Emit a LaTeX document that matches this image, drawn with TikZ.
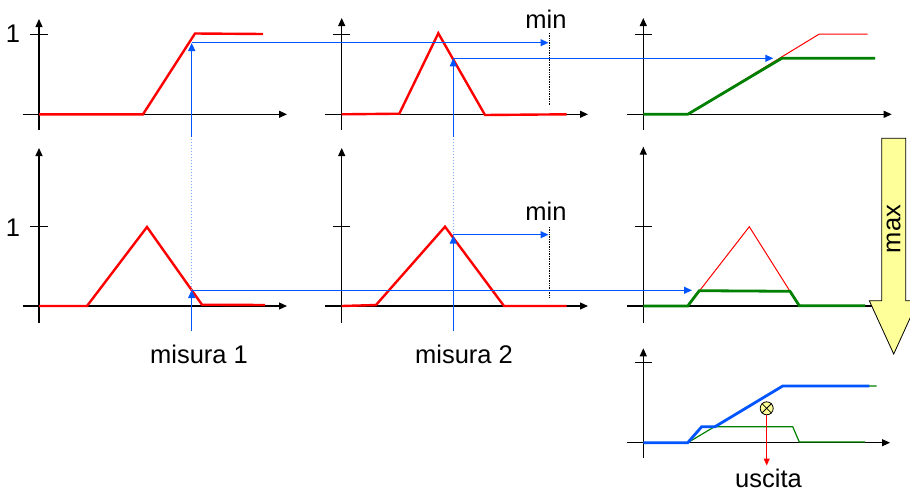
\documentclass[tikz,border=0pt]{standalone}
\usepackage{fontspec}
\setmainfont{Liberation Sans}
\usetikzlibrary{arrows.meta}
\definecolor{fred}{RGB}{255,0,0}
\definecolor{fblue}{RGB}{0,85,255}
\definecolor{fgreen}{RGB}{0,150,0}
\definecolor{fyellow}{RGB}{255,255,153}
\begin{document}
\begin{tikzpicture}[x=1pt,y=-1pt,
  axisline/.style={line width=1.1pt, black, -{Triangle[length=8pt,width=7pt]}},
  tickline/.style={line width=1.1pt, black},
  redthick/.style={line width=2.4pt, fred, line join=miter},
  redthin/.style={line width=1pt, fred},
  greenthick/.style={line width=2.8pt, fgreen!85!black},
  greenthin/.style={line width=1.2pt, fgreen!85!black},
  bluethick/.style={line width=2.8pt, fblue},
  blueline/.style={line width=1.2pt, fblue},
  bluearrow/.style={line width=1.2pt, fblue, -{Triangle[length=8pt,width=7pt]}},
  bluedot/.style={line width=1pt, fblue!50, dotted},
  mindot/.style={line width=0.7pt, black, densely dotted},
  lbl/.style={inner sep=0pt, font=\fontsize{25.5}{30}\selectfont},
  maxarrow/.style={draw=black, line width=0.8pt, fill=fyellow}]
\useasboundingbox (0,0) rectangle (910,493);

% ---------- axes ----------
% panel 1 (top left)
\draw[axisline] (22.7,114.3) -- (287,114.3);
\draw[axisline] (39,130) -- (39,19);
\draw[tickline] (30,34.3) -- (48,34.3);
% panel 2 (bottom left)
\draw[axisline] (22.7,306) -- (287,306);
\draw[axisline] (39,322.7) -- (39,148);
\draw[tickline] (30,226.7) -- (48,226.7);
% panel 3 (top middle)
\draw[axisline] (325,114.3) -- (588,114.3);
\draw[axisline] (341.7,130) -- (341.7,18);
\draw[tickline] (333,34.3) -- (350,34.3);
% panel 4 (bottom middle)
\draw[axisline] (325,306) -- (588,306);
\draw[axisline] (341.7,322.7) -- (341.7,148);
\draw[tickline] (333,226.7) -- (350,226.7);
% panel 5 (top right)
\draw[axisline] (627.3,114.3) -- (891.7,114.3);
\draw[axisline] (643.3,130) -- (643.3,18);
\draw[tickline] (635,34.3) -- (652,34.3);
% panel 6 (middle right)
\draw[tickline] (627.3,306) -- (880,306);
\draw[axisline] (643.3,322.7) -- (643.3,146.7);
\draw[tickline] (635,226.7) -- (652,226.7);
% panel 7 (output)
\draw[axisline] (627.3,442.7) -- (890,442.7);
\draw[axisline] (643.3,458.3) -- (643.3,348.3);
\draw[tickline] (635,362.3) -- (652,362.3);

% ---------- labels ----------
\node[lbl] (one1) at (13,34) {1};
\node[lbl] (one2) at (13,228) {1};
\node[lbl] (min1) at (546,19) {min};
\node[lbl] (min2) at (546,211.5) {min};
\node[lbl] (mis1) at (199,354) {misura 1};
\node[lbl] (mis2) at (464,354) {misura 2};
\node[lbl] (usc) at (768.5,478.3) {uscita};

% ---------- membership functions ----------
\draw[redthick] (39,114.3) -- (143,114.3) -- (195,33.5) -- (263,34);
\draw[redthick] (39,306) -- (87,306) -- (147,227) -- (202,304.7) -- (265,305);
\draw[redthick] (341.7,114.3) -- (399.3,113.7) -- (438.3,33.3) -- (485,115) -- (566.7,114.3);
\draw[redthick] (341.7,306) -- (376,305) -- (445,226.7) -- (504,306) -- (566.7,306);

% right column
\draw[redthin] (643.3,114.3) -- (687.7,114.3) -- (819.3,34) -- (867.7,34);
\draw[greenthick] (643.3,114.3) -- (687.7,114.3) -- (781.7,58.3) -- (875,58.3);
\draw[redthin] (643.3,306) -- (687.7,306) -- (749.3,226.7) -- (799.3,306) -- (865,306);
\draw[greenthick] (643.3,306) -- (687.7,306) -- (699.3,290.7) -- (790,291.3) -- (799.3,305.7) -- (865,305.7);

% output panel
\draw[greenthin] (687.7,442.7) -- (782.7,386) -- (876.7,386);
\draw[greenthin] (643.3,442.7) -- (687.7,442.7) -- (701.7,426.7) -- (792.7,426.7) -- (799.3,442) -- (865,442);
\draw[bluethick] (643.3,442.7) -- (687.7,442.7) -- (701.7,426.7) -- (715,426.7) -- (782.7,386) -- (869.3,386);

% ---------- min lines ----------
\draw[mindot] (549.3,33) -- (549.3,106);
\draw[mindot] (549.3,227) -- (549.3,297);

% ---------- blue measurement lines ----------
\coordinate (m1bot) at (191.7,330.7);
\coordinate (m1low) at (191.7,290);
\coordinate (m1mid) at (191.7,137);
\coordinate (m1top) at (191.7,43);
\coordinate (m2bot) at (453.3,330.7);
\coordinate (m2low) at (453.3,235.5);
\coordinate (m2mid) at (453.3,137);
\coordinate (m2top) at (453.3,58.3);
\coordinate (a1) at (548.5,42.7);
\coordinate (a2) at (773.3,58.3);
\coordinate (a3) at (548.5,234.7);
\coordinate (a4) at (692,290.3);

\draw[bluedot] (m1low) -- (m1mid);
\draw[bluedot] (m2low) -- (m2mid);
\draw[bluearrow] (m1bot) -- (m1low);
\draw[bluearrow] (m1mid) -- (m1top);
\draw[bluearrow] (m2bot) -- (m2low);
\draw[bluearrow] (m2mid) -- (m2top);
\draw[bluearrow] (191.7,42.7) -- (a1);
\draw[bluearrow] (453.3,58.3) -- (a2);
\draw[bluearrow] (453.3,234.7) -- (a3);
\draw[bluearrow] (191.7,290.3) -- (a4);

% ---------- max arrow ----------
\draw[maxarrow] (881.7,138.3) -- (905.7,138.3) -- (905.7,300.7) -- (918,300.7)
  -- (893.7,354) -- (869.3,300.7) -- (881.7,300.7) -- cycle;
\node[lbl, rotate=90] (max) at (893.7,229) {max};

% ---------- defuzzification ----------
\node[circle, draw=black, line width=0.8pt, fill=fyellow, minimum size=13pt, inner sep=0pt] (cog) at (766.7,408.3) {};
\draw[line width=0.8pt] (cog.north east) -- (cog.south west) (cog.north west) -- (cog.south east);
\coordinate (out) at (766.7,465.5);
\draw[line width=1pt, fred, -{Triangle[length=7pt,width=6pt]}] (cog.south) -- (out);
\end{tikzpicture}
\end{document}
